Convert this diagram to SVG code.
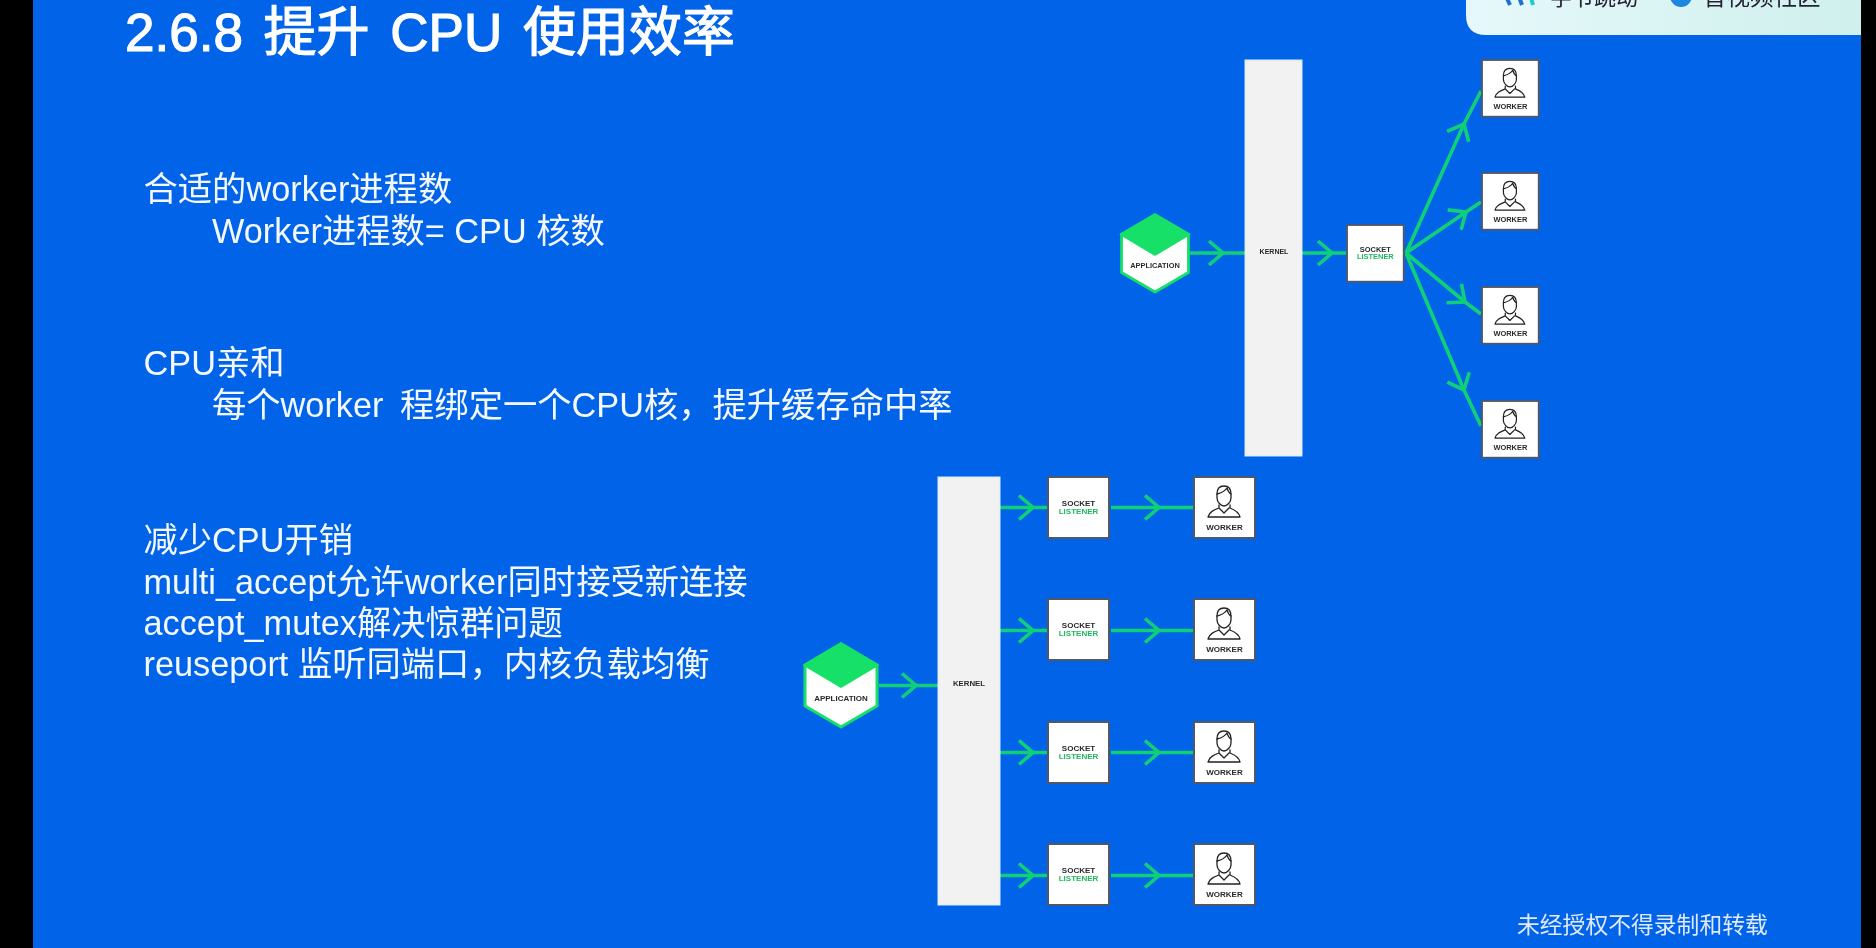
<svg xmlns="http://www.w3.org/2000/svg" width="1876" height="948" viewBox="0 0 1876 948">
<style>
.t{font-family:"Liberation Sans","Noto Sans CJK SC",sans-serif;fill:#fff}
.title{font-size:53px;stroke:#fff;stroke-width:1.2px;word-spacing:6px}
.body{font-size:34.3px;fill:#f4f8ff}
.lab{font-family:"Liberation Sans",sans-serif;font-weight:bold;text-anchor:middle;fill:#2a2a2a}
.grn{fill:#22b860}
.box{fill:#fff;stroke:#505868;stroke-width:2}
.ker{fill:#f2f2f2;stroke:#d8ecfb;stroke-width:1}
.con{fill:none;stroke:#10d078;stroke-width:3.6;marker-mid:url(#chev)}
.ico{fill:none;stroke:#222;stroke-width:1.3;stroke-linejoin:round;stroke-linecap:round}
</style>
<defs>
<filter id="soft" x="0" y="0" width="100%" height="100%"><feGaussianBlur stdDeviation="0.55"/></filter>
<linearGradient id="card" x1="0" y1="0" x2="1" y2="0"><stop offset="0" stop-color="#e6f8fb"/><stop offset="1" stop-color="#cff0ec"/></linearGradient>
<marker id="chev" markerUnits="userSpaceOnUse" markerWidth="30" markerHeight="30" refX="15" refY="15" orient="auto" overflow="visible"><path d="M1 3 L15 15 L1 27" fill="none" stroke="#10d078" stroke-width="3.6"/></marker>
<g id="person"><path class="ico" d="M23 17C23 11 26 9 30 9C34 9 37 11 37 17L37 21C37 25 33 29 30 29C27 29 23 25 23 21Z"/><path class="ico" d="M23 17C27 16 31 14 33 11C34 14 35 16 37 17M25 28L25 31C20 33 15 35 14 40L46 40C45 35 41 33 36 31L36 28M25 31L30 36L35 31"/></g>
<g id="worker"><rect class="box" x="0" y="0" width="61" height="61"/><use href="#person"/><text class="lab" x="30.5" y="53" font-size="8">WORKER</text></g>
<g id="socket"><rect class="box" x="0" y="0" width="61" height="61"/><text class="lab" x="30.5" y="29" font-size="8">SOCKET</text><text class="lab grn" x="30.5" y="37" font-size="8">LISTENER</text></g>
<g id="hex"><path d="M0 -41L36 -20L36 21L0 42L-36 21L-36 -20Z" fill="#fff" stroke="#14e068" stroke-width="3" stroke-linejoin="round"/><path d="M0 -42L37 -20L0 2L-37 -20Z" fill="#14e068" stroke="#14e068" stroke-width="2" stroke-linejoin="round"/></g>
</defs>
<rect width="1876" height="948" fill="#000"/>
<g filter="url(#soft)">
<rect x="33" width="1828" height="948" fill="#0363e8"/>
<g id="card-top">
<path d="M1466 -10H1861V35H1486Q1466 35 1466 15Z" fill="url(#card)"/>
<text class="t" x="1550" y="5" font-size="22" style="fill:#223">字节跳动</text>
<circle cx="1681" cy="-4" r="11" fill="#1a86e0"/>
<text class="t" x="1703" y="5" font-size="23.5" style="fill:#223">音视频社区</text>
<path d="M1505 -6L1510 5M1518 -6L1522 5" stroke="#1a6fd0" stroke-width="4"/><path d="M1530 -6L1533 5" stroke="#22c8d8" stroke-width="4"/>
</g>
<text id="title" class="t title" x="125" y="51">2.6.8 提升 CPU 使用效率</text>
<g id="text-block">
<text class="t body" x="143.500" y="201">合适的worker进程数</text>
<text class="t body" x="212" y="243">Worker进程数= CPU 核数</text>
<text class="t body" x="143.500" y="375">CPU亲和</text>
<text class="t body" x="212" y="417">每个worker <tspan dx="7">程绑定一个CPU核，提升缓存命中率</tspan></text>
<text class="t body" x="143.500" y="552">减少CPU开销</text>
<text class="t body" x="143.500" y="594">multi_accept允许worker同时接受新连接</text>
<text class="t body" x="143.500" y="635">accept_mutex解决惊群问题</text>
<text class="t body" x="143.500" y="676">reuseport 监听同端口，内核负载均衡</text>
</g>
<text id="watermark" class="t" x="1517" y="933" font-size="22.8" style="fill:#dfeafc">未经授权不得录制和转载</text>
<g id="connectors">
<polyline class="con" points="1190,253 1223,253 1245,253"/>
<polyline class="con" points="1302,253 1332,253 1346,253"/>
<polyline class="con" points="1406,253 1464,124 1481,91"/>
<polyline class="con" points="1406,253 1466,212 1481,202"/>
<polyline class="con" points="1406,253 1465,302 1481,314"/>
<polyline class="con" points="1406,253 1464,390 1481,426"/>
<polyline class="con" points="879,685.500 916,685.500 938,685.500"/>
<polyline class="con" points="1000,507.500 1033,507.500 1047,507.500"/>
<polyline class="con" points="1111,507.500 1159,507.500 1193,507.500"/>
<polyline class="con" points="1000,630.500 1033,630.500 1047,630.500"/>
<polyline class="con" points="1111,630.500 1159,630.500 1193,630.500"/>
<polyline class="con" points="1000,752.500 1033,752.500 1047,752.500"/>
<polyline class="con" points="1111,752.500 1159,752.500 1193,752.500"/>
<polyline class="con" points="1000,875.500 1033,875.500 1047,875.500"/>
<polyline class="con" points="1111,875.500 1159,875.500 1193,875.500"/>
</g>
<g id="app1"><use href="#hex" transform="translate(1155,253) scale(.93)"/><text class="lab" x="1155" y="268" font-size="7.4">APPLICATION</text></g>
<g id="kernel1"><rect class="ker" x="1245" y="60" width="57" height="396"/><text class="lab" x="1274" y="254" font-size="7">KERNEL</text></g>
<g id="socket1"><use href="#socket" transform="translate(1347,225) scale(.93)"/></g>
<g id="worker1-1"><use href="#worker" transform="translate(1482,60) scale(.93)"/></g>
<g id="worker1-2"><use href="#worker" transform="translate(1482,173) scale(.93)"/></g>
<g id="worker1-3"><use href="#worker" transform="translate(1482,287) scale(.93)"/></g>
<g id="worker1-4"><use href="#worker" transform="translate(1482,401) scale(.93)"/></g>
<g id="app2"><use href="#hex" transform="translate(841,685)"/><text class="lab" x="841" y="701" font-size="8">APPLICATION</text></g>
<g id="kernel2"><rect class="ker" x="938" y="477" width="62" height="428"/><text class="lab" x="969" y="686" font-size="7.8">KERNEL</text></g>
<g id="socket2-1"><use href="#socket" transform="translate(1048,477)"/></g>
<g id="socket2-2"><use href="#socket" transform="translate(1048,599)"/></g>
<g id="socket2-3"><use href="#socket" transform="translate(1048,722)"/></g>
<g id="socket2-4"><use href="#socket" transform="translate(1048,844)"/></g>
<g id="worker2-1"><use href="#worker" transform="translate(1194,477)"/></g>
<g id="worker2-2"><use href="#worker" transform="translate(1194,599)"/></g>
<g id="worker2-3"><use href="#worker" transform="translate(1194,722)"/></g>
<g id="worker2-4"><use href="#worker" transform="translate(1194,844)"/></g>
</g>
</svg>
